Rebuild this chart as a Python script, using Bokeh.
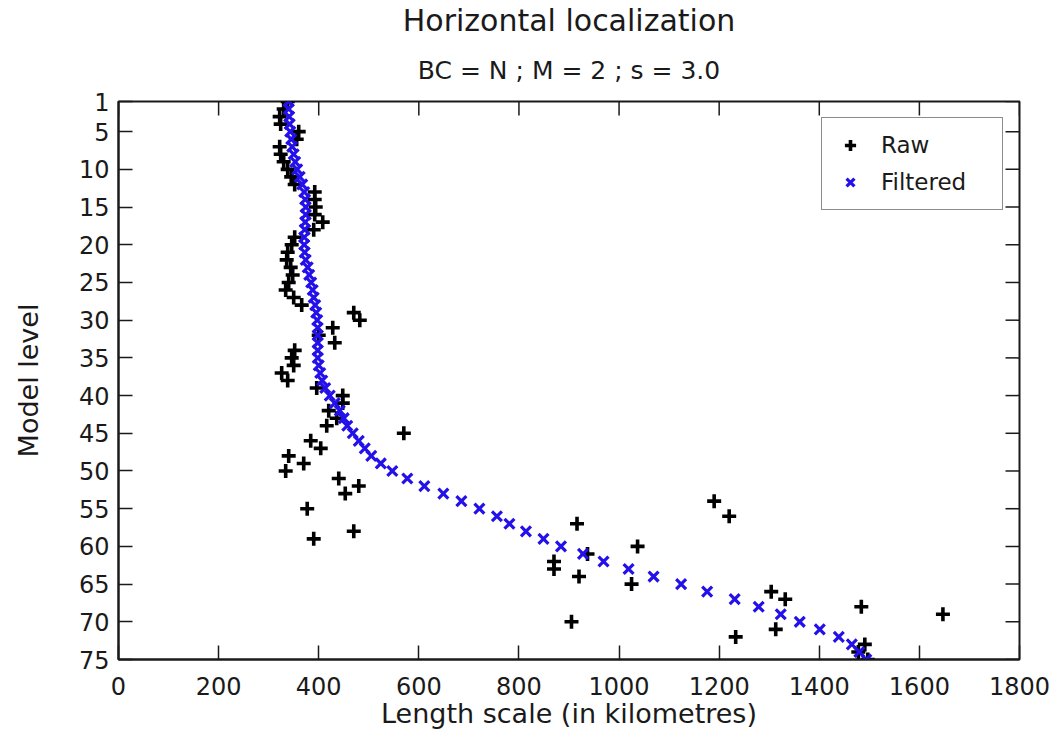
from bokeh.plotting import figure
from bokeh.models import Range1d, FixedTicker, Title, Legend, LegendItem
from bokeh.embed import file_html
from bokeh.resources import INLINE

# ---- data ----
levels = list(range(1, 76))
raw = [338, 330, 322, 324, 360, 356, 322, 324, 330, 338,
       345, 352, 392, 392, 394, 392, 408, 390, 352, 346,
       338, 336, 344, 348, 340, 334, 350, 366, 470, 482,
       428, 400, 432, 352, 346, 350, 326, 338, 396, 448,
       448, 420, 436, 416, 570, 384, 404, 340, 370, 334,
       440, 480, 453, 1190, 377, 1220, 916, 470, 390, 1037,
       937, 870, 870, 920, 1025, 1304, 1332, 1484, 1647, 905,
       1313, 1233, 1491, 1478, 1497]
filtered = [340, 340, 341, 342, 343, 345, 347, 350, 353, 357,
            362, 367, 371, 373, 374, 374, 373, 372, 371, 371,
            372, 374, 378, 381, 385, 388, 390, 393, 395, 397,
            398, 398, 398, 398, 398, 400, 403, 407, 413, 422,
            432, 442, 450, 457, 468, 480, 492, 505, 524, 547,
            577, 611, 649, 685, 721, 756, 781, 814, 849, 884,
            928, 969, 1019, 1069, 1124, 1176, 1231, 1279, 1323, 1361,
            1401, 1439, 1465, 1480, 1494]
x_ticks = [0, 200, 400, 600, 800, 1000, 1200, 1400, 1600, 1800]
y_ticks = [1, 5, 10, 15, 20, 25, 30, 35, 40, 45, 50, 55, 60, 65, 70, 75]

FONT = "DejaVu Sans"
BLUE = "#2410e8"
INK = "#1a1a1a"

X0, X1 = 0, 1800
Y0, Y1 = 75, 1
W, H = 1050, 745
BL, BR, BT, BB = 118, 31, 101, 86
TICK = 14

p = figure(width=W, height=H, output_backend="svg", toolbar_location=None,
           x_range=Range1d(X0, X1), y_range=Range1d(Y0, Y1),
           min_border_left=BL, min_border_right=BR, min_border_top=BT, min_border_bottom=BB,
           title=None)
p.background_fill_color = "white"
p.border_fill_color = "white"
p.outline_line_color = INK
p.outline_line_width = 2
p.xgrid.visible = False
p.ygrid.visible = False

def style_axis(ax, ticks):
    ax.ticker = FixedTicker(ticks=ticks)
    ax.major_tick_in = TICK
    ax.major_tick_out = 0
    ax.minor_tick_line_color = None
    ax.major_tick_line_width = 1.5
    ax.major_tick_line_color = INK
    ax.axis_line_width = 2
    ax.axis_line_color = INK
    ax.major_label_text_font = FONT
    ax.major_label_text_font_size = "24px"
    ax.major_label_text_color = INK
    ax.axis_label_text_font = FONT
    ax.axis_label_text_font_size = "27px"
    ax.axis_label_text_font_style = "normal"
    ax.axis_label_text_color = INK

xa = p.xaxis[0]
ya = p.yaxis[0]
style_axis(xa, x_ticks)
style_axis(ya, y_ticks)
xa.major_label_standoff = 17
ya.major_label_standoff = 9
xa.axis_label = "Length scale (in kilometres)"
ya.axis_label = "Model level"
xa.axis_label_standoff = 0
ya.axis_label_standoff = 32

# mirrored inward ticks on the top and right edges (derived from the tick arrays)
fw = W - BL - BR
fh = H - BT - BB
dy = TICK * abs(Y0 - Y1) / fh
dx = TICK * (X1 - X0) / fw
p.segment(x0=x_ticks, y0=[Y1] * len(x_ticks), x1=x_ticks, y1=[Y1 + dy] * len(x_ticks),
          line_color=INK, line_width=1.5)
p.segment(x0=[X1] * len(y_ticks), y0=y_ticks, x1=[X1 - dx] * len(y_ticks), y1=y_ticks,
          line_color=INK, line_width=1.5)

p.add_layout(Title(text="BC = N ; M = 2 ; s = 3.0", align="center", text_font=FONT,
                   text_font_size="25px", text_font_style="normal", text_color=INK,
                   standoff=33), "above")
p.add_layout(Title(text="Horizontal localization", align="center", text_font=FONT,
                   text_font_size="30px", text_font_style="normal", text_color=INK,
                   standoff=0), "above")

r_raw = p.scatter(raw, levels, marker="cross", size=14, line_width=3.6, color="black")
r_fil = p.scatter(filtered, levels, marker="x", size=14, line_width=3.2, color=BLUE)

legend = Legend(items=[LegendItem(label="Raw", renderers=[r_raw]),
                       LegendItem(label="Filtered", renderers=[r_fil])],
                location="top_right")
legend.label_text_font = FONT
legend.label_text_font_size = "23px"
legend.label_text_color = INK
legend.border_line_color = INK
legend.border_line_width = 1.5
legend.margin = 16
legend.padding = 13
legend.spacing = 9
legend.glyph_width = 30
legend.glyph_height = 28
legend.label_height = 28
legend.label_width = 108
legend.label_standoff = 16
legend.background_fill_alpha = 1
p.add_layout(legend, "center")

open("out.html", "w").write(file_html(p, INLINE))
